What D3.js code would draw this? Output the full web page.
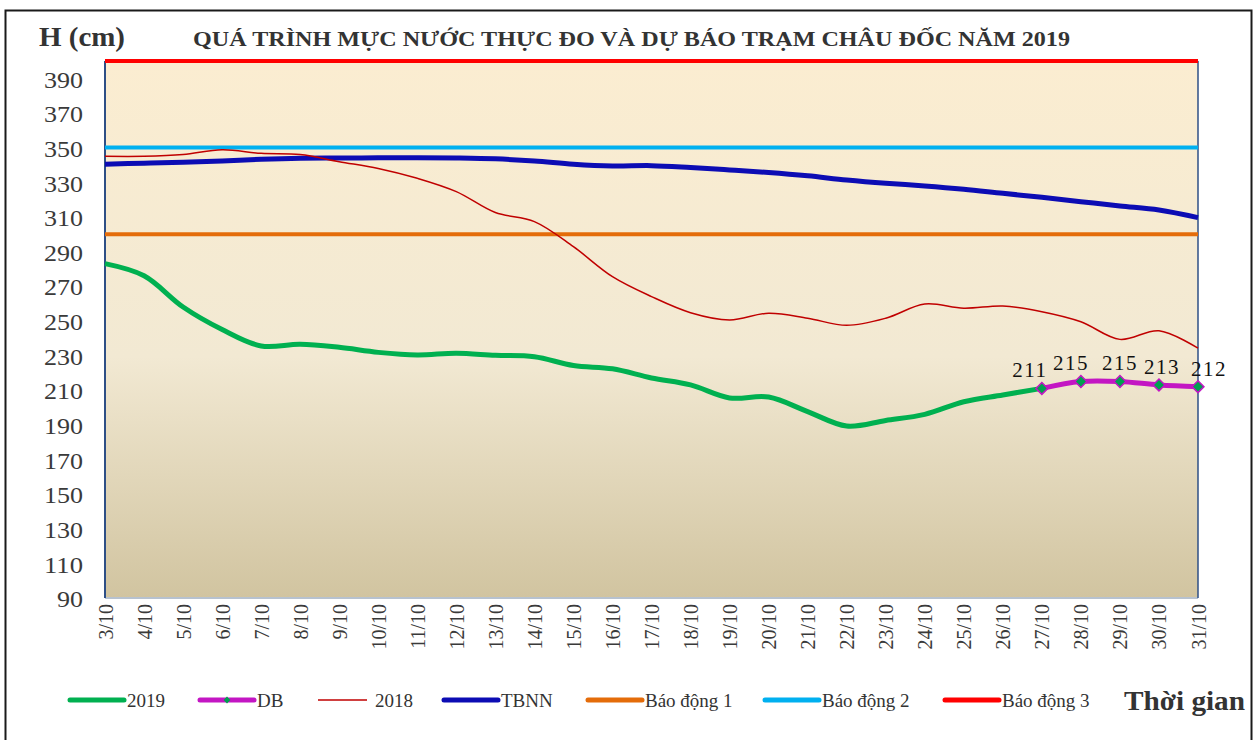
<!DOCTYPE html>
<html>
<head>
<meta charset="utf-8">
<script src="https://cdn.jsdelivr.net/npm/d3@7"></script>
<style>
  body { margin: 0; background: #fff; }
  text { font-family: "Liberation Serif", "Times New Roman", serif; }
</style>
</head>
<body>
<script>
// data
var days = ["3/10","4/10","5/10","6/10","7/10","8/10","9/10","10/10","11/10","12/10","13/10","14/10","15/10","16/10",
            "17/10","18/10","19/10","20/10","21/10","22/10","23/10","24/10","25/10","26/10","27/10","28/10","29/10","30/10","31/10"];

var h2019 = [283,276,258,245,235.5,236.5,234.7,231.8,230.3,231.3,230.1,229.3,224.2,222.3,217,213,205.5,206,197.6,189.3,192.5,196,203.3,207.2,211];
var db = [211,215,215,213,212];            // forecast 27/10 -> 31/10
var h2018 = [345,345,346,348.7,346.7,346,341.9,338,332.3,324.6,312.5,307.3,292.8,275.5,264,254.7,250.5,254.4,251.5,247.4,251.5,259.7,257.3,258.6,255.3,249.5,239.3,244.3,234.2];
var tbnn = [340.4,341,341.5,342.3,343.3,343.9,344,344.1,344.2,344,343.5,342.3,340.4,339.4,339.6,338.5,337.1,335.6,333.7,331.3,329.4,327.9,326,323.6,321.3,318.8,316.3,314,309.6];
var alarms = [300, 350, 400];
var yTicks = d3.range(90, 391, 20);

var width = 1259,
    height = 740;

var margin = {left: 105, right: 61, top: 61, bottom: 142};
var innerW = width - margin.left - margin.right,
    innerH = height - margin.top - margin.bottom;

var x = d3.scalePoint().domain(days).range([0, innerW]);
var y = d3.scaleLinear().domain([90, 400]).range([innerH, 0]);

var svg = d3.select("body").append("svg")
    .attr("width", width)
    .attr("height", height);

// outer frame
svg.append("rect")
    .attr("x", 5.5).attr("y", 10.5)
    .attr("width", 1246).attr("height", 740)
    .attr("fill", "none")
    .attr("stroke", "#1a1a1a")
    .attr("stroke-width", 2);

var defs = svg.append("defs");
var grad = defs.append("linearGradient")
    .attr("id", "bg").attr("x1", 0).attr("y1", 0).attr("x2", 0).attr("y2", 1);
grad.append("stop").attr("offset", "0%").attr("stop-color", "#fbedd1");
grad.append("stop").attr("offset", "55%").attr("stop-color", "#f2e9d3");
grad.append("stop").attr("offset", "100%").attr("stop-color", "#d1c4a0");

var g = svg.append("g")
    .attr("transform", "translate(" + margin.left + "," + margin.top + ")");

g.append("rect")
    .attr("width", innerW)
    .attr("height", innerH)
    .attr("fill", "url(#bg)");

// plot borders
g.append("line").attr("x1", 0).attr("x2", innerW).attr("y1", innerH).attr("y2", innerH)
    .attr("stroke", "#b7c2cf").attr("stroke-width", 2);
g.append("line").attr("x1", 0).attr("x2", 0).attr("y1", 0).attr("y2", innerH)
    .attr("stroke", "#2e4f86").attr("stroke-width", 2);
g.append("line").attr("x1", innerW).attr("x2", innerW).attr("y1", 0).attr("y2", innerH)
    .attr("stroke", "#2e4f86").attr("stroke-width", 1.5);

// y axis
var yAxis = g.append("g")
    .call(d3.axisLeft(y).tickValues(yTicks).tickSize(0).tickPadding(22));
yAxis.select(".domain").remove();
yAxis.selectAll("text")
    .attr("font-size", 23)
    .attr("fill", "#3a3a3a")
    .attr("dy", "0.38em")
    .attr("textLength", function(d) { return String(d).length * 13; })
    .attr("lengthAdjust", "spacingAndGlyphs")
    .style("font-family", "'Liberation Serif', serif");

// x axis
var xAxis = g.append("g")
    .attr("transform", "translate(0," + innerH + ")")
    .call(d3.axisBottom(x).tickSize(0).tickPadding(0));
xAxis.select(".domain").remove();
xAxis.selectAll("text")
    .attr("font-size", 20)
    .attr("fill", "#3a3a3a")
    .attr("transform", "rotate(-90)")
    .attr("text-anchor", "end")
    .attr("x", -6)
    .attr("y", 0)
    .attr("dy", "0.35em")
    .style("font-family", "'Liberation Serif', serif");

var line = d3.line()
    .x(function(d) { return x(d.day); })
    .y(function(d) { return y(d.v); })
    .curve(d3.curveCatmullRom);

function toPts(values, offset) {
  return values.map(function(v, i) { return {day: days[i + (offset || 0)], v: v}; });
}

// alarm levels
var alarmColors = ["#e46c0a", "#00b0f0", "#ff0000"];
alarms.forEach(function(a, i) {
  g.append("line")
      .attr("x1", 0).attr("x2", innerW)
      .attr("y1", y(a)).attr("y2", y(a))
      .attr("stroke", alarmColors[i])
      .attr("stroke-width", 4);
});

g.append("path")
    .datum(toPts(tbnn))
    .attr("d", line)
    .attr("fill", "none")
    .attr("stroke", "#0c0cb4")
    .attr("stroke-width", 5);

g.append("path")
    .datum(toPts(h2018))
    .attr("d", line)
    .attr("fill", "none")
    .attr("stroke", "#c00000")
    .attr("stroke-width", 1.5);

g.append("path")
    .datum(toPts(h2019))
    .attr("d", line)
    .attr("fill", "none")
    .attr("stroke", "#00b050")
    .attr("stroke-width", 5);

var dbPts = toPts(db, days.length - db.length);
g.append("path")
    .datum(dbPts)
    .attr("d", line)
    .attr("fill", "none")
    .attr("stroke", "#c316c3")
    .attr("stroke-width", 5);

g.selectAll(".dbmark")
    .data(dbPts)
    .enter().append("path")
    .attr("class", "dbmark")
    .attr("d", d3.symbol().type(d3.symbolDiamond2).size(90))
    .attr("transform", function(d) { return "translate(" + x(d.day) + "," + y(d.v) + ")"; })
    .attr("fill", "#00a050")
    .attr("stroke", "#c316c3")
    .attr("stroke-width", 1.5);

var labelDx = [-12, -10, 0, 3, 11];
g.selectAll(".dblabel")
    .data(dbPts)
    .enter().append("text")
    .attr("class", "dblabel")
    .attr("x", function(d, i) { return x(d.day) + labelDx[i]; })
    .attr("y", function(d) { return y(d.v) - 11; })
    .attr("text-anchor", "middle")
    .attr("font-size", 21)
    .attr("letter-spacing", 1.5)
    .attr("fill", "#111")
    .text(function(d) { return d.v; });

// titles
svg.append("text")
    .attr("x", 39).attr("y", 46)
    .attr("font-size", 27).attr("font-weight", "bold").attr("fill", "#333")
    .attr("textLength", 86).attr("lengthAdjust", "spacingAndGlyphs")
    .text("H (cm)");

svg.append("text")
    .attr("x", 193).attr("y", 46)
    .attr("font-size", 20).attr("font-weight", "bold").attr("fill", "#333")
    .attr("textLength", 877).attr("lengthAdjust", "spacingAndGlyphs")
    .text("QUÁ TRÌNH MỰC NƯỚC THỰC ĐO VÀ DỰ BÁO TRẠM  CHÂU ĐỐC NĂM  2019");

svg.append("text")
    .attr("x", 1124).attr("y", 710)
    .attr("font-size", 27).attr("font-weight", "bold").attr("fill", "#333")
    .attr("textLength", 121).attr("lengthAdjust", "spacingAndGlyphs")
    .text("Thời gian");

// legend
var legendItems = [
  {name: "2019", color: "#00b050", w: 5, x: 70, len: 54},
  {name: "DB", color: "#c316c3", w: 5, x: 200, len: 54, mark: true},
  {name: "2018", color: "#c00000", w: 1.5, x: 318, len: 49},
  {name: "TBNN", color: "#0c0cb4", w: 5, x: 444, len: 54},
  {name: "Báo động 1", color: "#e46c0a", w: 5, x: 588, len: 54},
  {name: "Báo động 2", color: "#00b0f0", w: 5, x: 765, len: 54},
  {name: "Báo động 3", color: "#ff0000", w: 5, x: 945, len: 54}
];

var leg = svg.append("g").attr("transform", "translate(0,700)");
legendItems.forEach(function(d) {
  leg.append("line")
      .attr("x1", d.x).attr("x2", d.x + d.len)
      .attr("stroke", d.color).attr("stroke-width", d.w)
      .attr("stroke-linecap", d.w > 2 ? "round" : "butt");
  if (d.mark) {
    leg.append("path")
        .attr("d", d3.symbol().type(d3.symbolDiamond2).size(30))
        .attr("transform", "translate(" + (d.x + 27) + ",0)")
        .attr("fill", "#00a050");
  }
  leg.append("text")
      .attr("x", d.x + 57).attr("y", 7)
      .attr("font-size", 19).attr("fill", "#333")
      .text(d.name);
});
</script>
</body>
</html>
